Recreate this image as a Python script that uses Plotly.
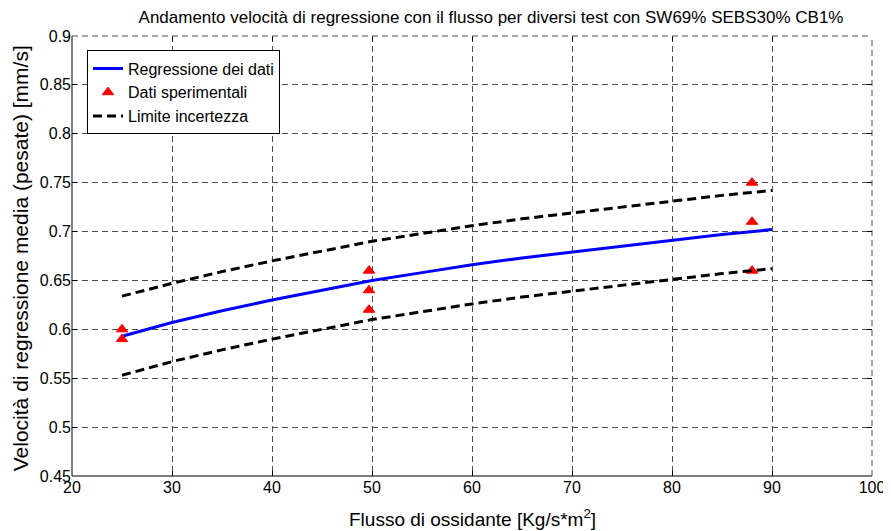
import plotly.graph_objects as go

# Regression curve
reg_x = [25, 30, 35, 40, 45, 50, 55, 60, 65, 70, 75, 80, 85, 90]
reg_y = [0.593, 0.607, 0.619, 0.630, 0.640, 0.650, 0.658, 0.666, 0.673, 0.679, 0.685, 0.691, 0.697, 0.702]
upper_y = [0.634, 0.647, 0.659, 0.670, 0.680, 0.690, 0.698, 0.706, 0.713, 0.719, 0.725, 0.731, 0.737, 0.742]
lower_y = [0.553, 0.567, 0.579, 0.590, 0.600, 0.610, 0.618, 0.626, 0.633, 0.639, 0.645, 0.651, 0.657, 0.662]

# Experimental data
exp_x = [25, 25, 49.7, 49.7, 49.7, 88, 88, 88]
exp_y = [0.60, 0.59, 0.66, 0.64, 0.62, 0.75, 0.71, 0.66]

title_text = "Andamento velocità di regressione con il flusso per diversi test con SW69% SEBS30% CB1%"
x_title = "Flusso di ossidante [Kg/s*m<sup>2</sup>]"
y_title = "Velocità di regressione media (pesate) [mm/s]"

FONT = "Liberation Sans, Arial, sans-serif"

# page has an 8px body margin: figure drawn at (8, 8)
W, H = 883, 523
L, R, T, B = 64, 19, 27.5, 55
PW, PH = W - L - R, H - T - B

fig = go.Figure()
fig.add_trace(go.Scatter(x=reg_x, y=reg_y, mode="lines", name="Regressione dei dati",
                         line=dict(color="#0000ff", width=3)))
fig.add_trace(go.Scatter(x=exp_x, y=exp_y, mode="markers", name="Dati sperimentali",
                         marker=dict(symbol="triangle-up", size=10, color="#ff0000",
                                     line=dict(color="#ff0000", width=1))))
fig.add_trace(go.Scatter(x=reg_x, y=upper_y, mode="lines", name="Limite incertezza",
                         line=dict(color="black", width=3, dash="9px,5px")))
fig.add_trace(go.Scatter(x=reg_x, y=lower_y, mode="lines", name="Limite incertezza",
                         showlegend=False,
                         line=dict(color="black", width=3, dash="9px,5px")))

axis_common = dict(
    showgrid=True, gridcolor="#4d4d4d", griddash="6px,4px", gridwidth=1,
    ticks="inside", ticklen=5, tickcolor="black", tickwidth=1,
    showline=False, mirror="ticks", zeroline=False, automargin=False,
    tickfont=dict(family=FONT, size=16, color="black"),
)

fig.update_layout(
    width=W, height=H,
    margin=dict(l=L, r=R, t=T, b=B),
    paper_bgcolor="white", plot_bgcolor="white",
    font=dict(family=FONT, size=16, color="black"),
    title=dict(text=title_text, x=483 / W, xanchor="center", y=1 - 9 / H, yanchor="middle",
               font=dict(family=FONT, size=17, color="black")),
    xaxis=dict(range=[20, 100], dtick=10, tick0=20, **axis_common),
    yaxis=dict(range=[0.45, 0.9], dtick=0.05, tick0=0.45, tickformat="~g", **axis_common),
    legend=dict(x=(79 - L) / PW, y=(H - B - 42) / PH, xanchor="left", yanchor="top",
                bgcolor="white", bordercolor="black", borderwidth=1,
                font=dict(family=FONT, size=16, color="black"),
                tracegroupgap=0, itemwidth=30),
    showlegend=True,
)

# axis titles
fig.add_annotation(text=x_title, xref="paper", yref="paper", x=0.5, y=(H - B - 510) / PH,
                   xanchor="center", yanchor="middle", showarrow=False,
                   font=dict(family=FONT, size=19, color="black"))
fig.add_annotation(text=y_title, xref="paper", yref="paper", x=(12 - L) / PW, y=(H - B - 250) / PH,
                   xanchor="center", yanchor="middle", showarrow=False, textangle=-90,
                   font=dict(family=FONT, size=21, color="black"))

# solid left and bottom axis lines
fig.add_shape(type="line", xref="paper", yref="paper", x0=0, x1=0, y0=0, y1=1,
              line=dict(color="black", width=1))
fig.add_shape(type="line", xref="paper", yref="paper", x0=0, x1=1, y0=0, y1=0,
              line=dict(color="black", width=1))
# dashed top and right borders
fig.add_shape(type="line", xref="paper", yref="paper", x0=0, x1=1, y0=1, y1=1,
              line=dict(color="#4d4d4d", width=1, dash="6px,4px"))
fig.add_shape(type="line", xref="paper", yref="paper", x0=1, x1=1, y0=0, y1=1,
              line=dict(color="#4d4d4d", width=1, dash="6px,4px"))

fig.write_html("out.html")
